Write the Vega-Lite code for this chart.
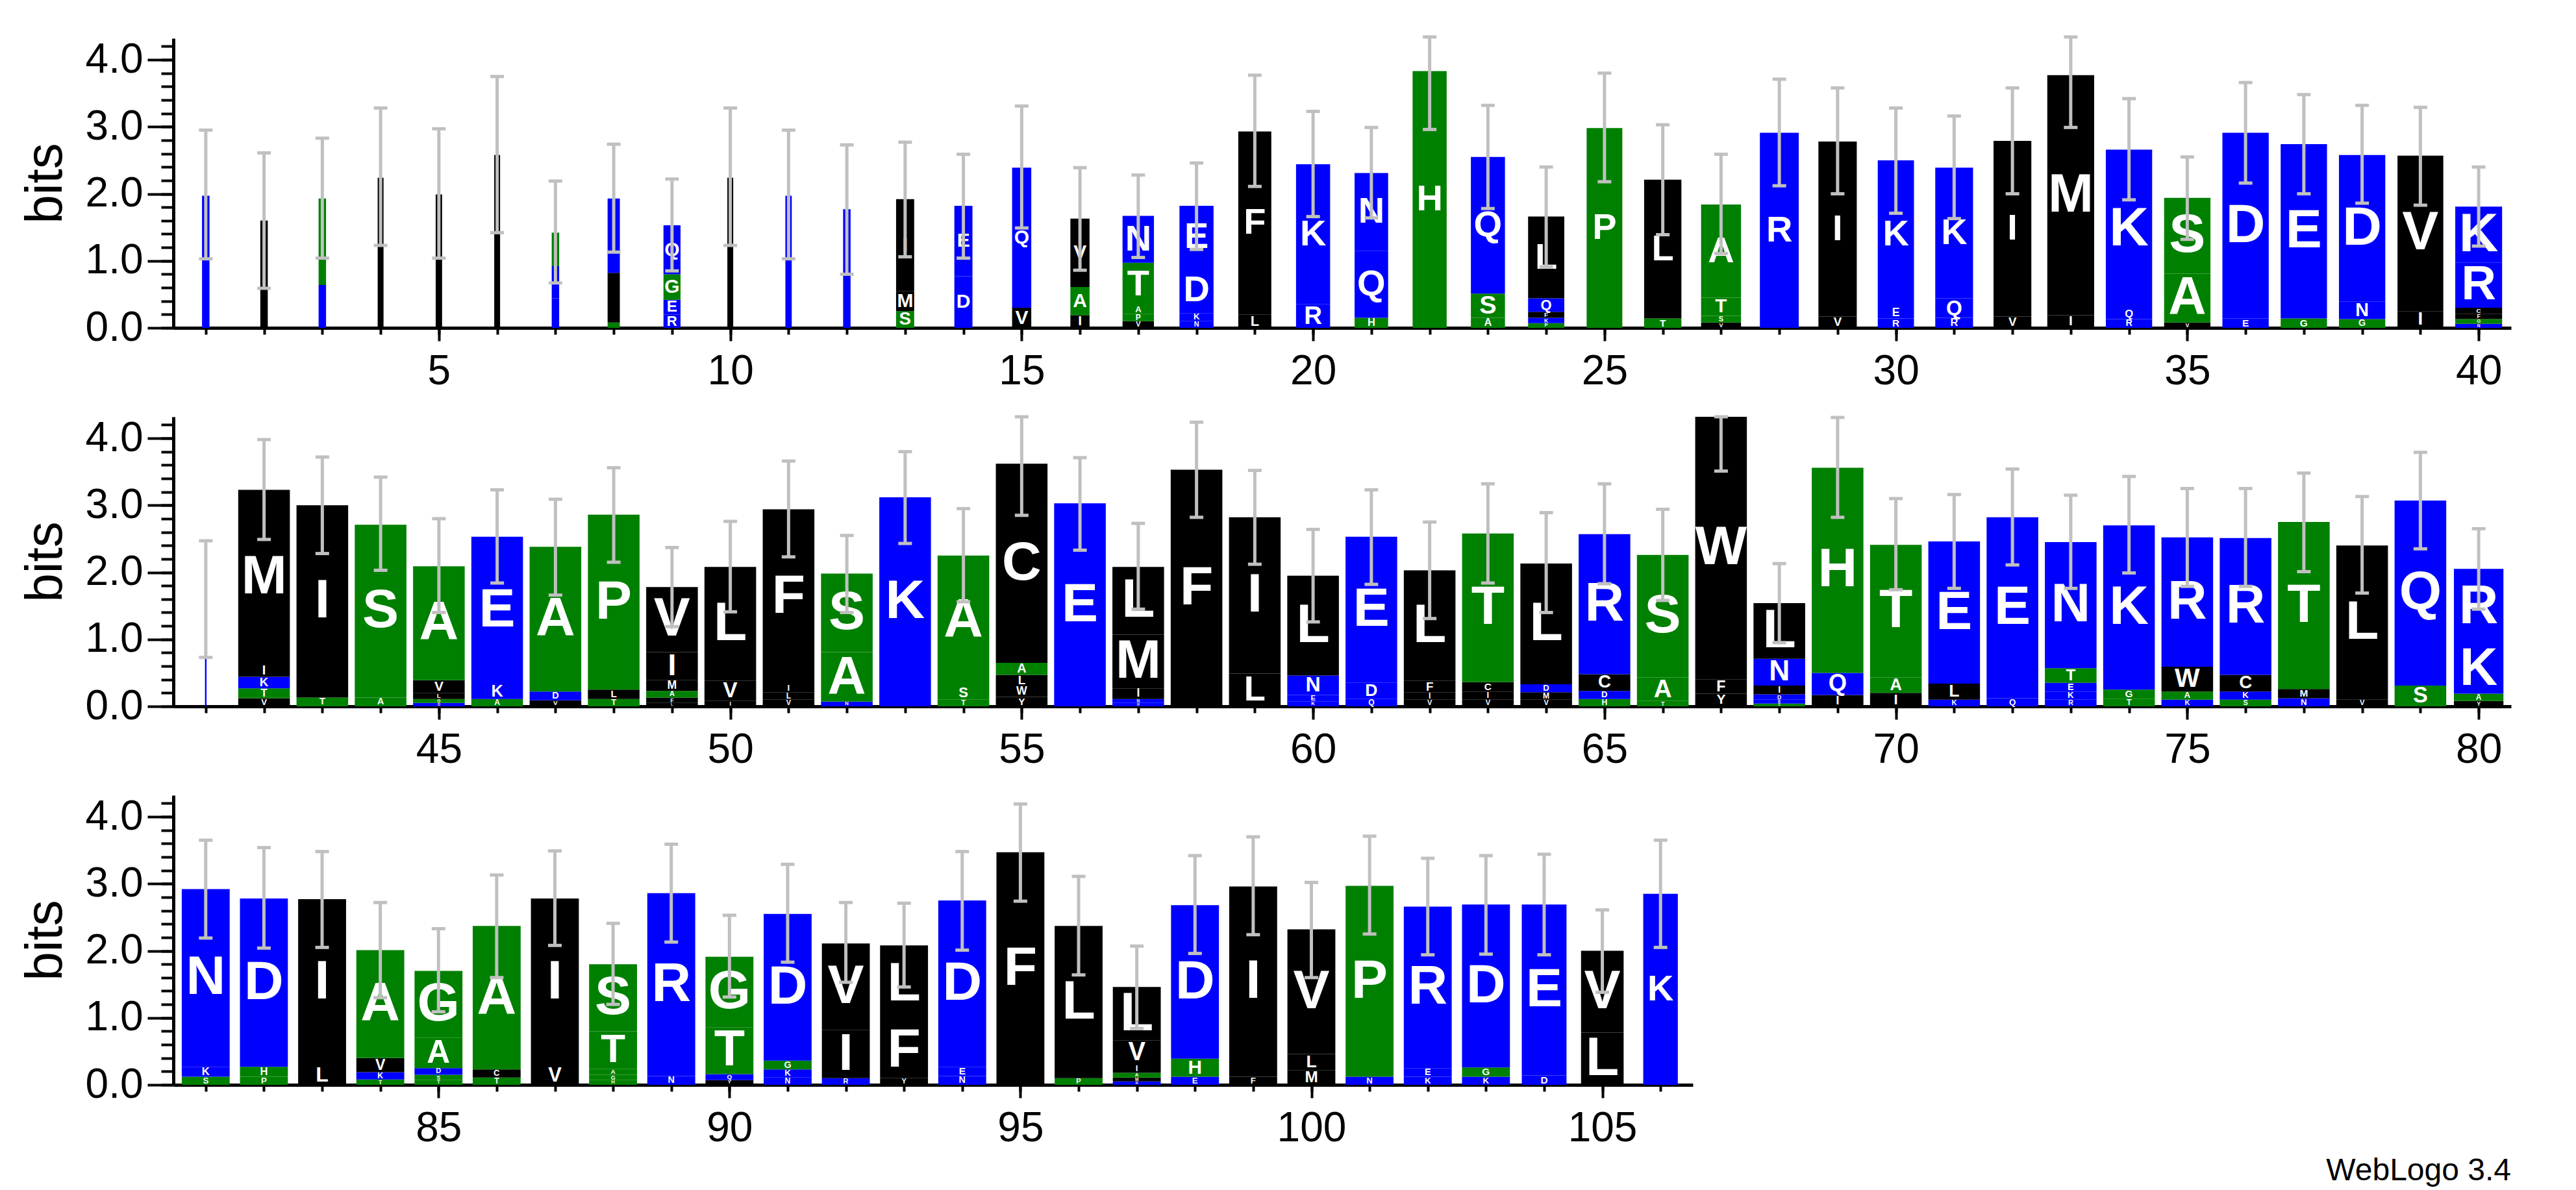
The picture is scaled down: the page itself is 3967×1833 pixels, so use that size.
{
"$schema":"https://vega.github.io/schema/vega-lite/v6.json",
"background":"white",
"padding":{"left":30,"top":54,"right":10,"bottom":10},
"title":{"text":"WebLogo 3.4","orient":"bottom","anchor":"end","fontSize":48,"fontWeight":"normal","font":"Liberation Sans","color":"black","offset":10},
"spacing":137,
"bounds":"flush",
"datasets":{
"letters":[
{"p":1,"a":"Q","b":1.97},
{"p":2,"a":"L","b":1.60},
{"p":3,"a":"Q","b":0.64},{"p":3,"a":"H","b":1.29},
{"p":4,"a":"W","b":2.24},
{"p":5,"a":"F","b":1.99},
{"p":6,"a":"Y","b":2.58},
{"p":7,"a":"Q","b":0.44},{"p":7,"a":"D","b":0.48},{"p":7,"a":"A","b":0.50},
{"p":8,"a":"S","b":0.08},{"p":8,"a":"F","b":0.74},{"p":8,"a":"Q","b":1.11},
{"p":9,"a":"R","b":0.20},{"p":9,"a":"E","b":0.22},{"p":9,"a":"G","b":0.38},{"p":9,"a":"Q","b":0.73},
{"p":10,"a":"W","b":2.24},
{"p":11,"a":"Q","b":1.97},
{"p":12,"a":"E","b":1.77},
{"p":13,"a":"S","b":0.25},{"p":13,"a":"M","b":0.30},{"p":13,"a":"I","b":1.37},
{"p":14,"a":"D","b":0.77},{"p":14,"a":"E","b":1.05},
{"p":15,"a":"V","b":0.30},{"p":15,"a":"Q","b":2.09},
{"p":16,"a":"I","b":0.19},{"p":16,"a":"A","b":0.42},{"p":16,"a":"V","b":1.02},
{"p":17,"a":"V","b":0.10},{"p":17,"a":"P","b":0.11},{"p":17,"a":"A","b":0.12},{"p":17,"a":"T","b":0.64},{"p":17,"a":"N","b":0.70},
{"p":18,"a":"N","b":0.10},{"p":18,"a":"K","b":0.12},{"p":18,"a":"D","b":0.68},{"p":18,"a":"E","b":0.92},
{"p":19,"a":"L","b":0.20},{"p":19,"a":"F","b":2.73},
{"p":20,"a":"R","b":0.35},{"p":20,"a":"K","b":2.09},
{"p":21,"a":"H","b":0.15},{"p":21,"a":"Q","b":1.00},{"p":21,"a":"N","b":1.16},
{"p":22,"a":"H","b":3.83},
{"p":23,"a":"A","b":0.15},{"p":23,"a":"S","b":0.36},{"p":23,"a":"Q","b":2.04},
{"p":24,"a":"P","b":0.07},{"p":24,"a":"K","b":0.08},{"p":24,"a":"F","b":0.09},{"p":24,"a":"Q","b":0.20},{"p":24,"a":"L","b":1.22},
{"p":25,"a":"P","b":2.98},
{"p":26,"a":"T","b":0.14},{"p":26,"a":"L","b":2.07},
{"p":27,"a":"V","b":0.08},{"p":27,"a":"S","b":0.10},{"p":27,"a":"T","b":0.27},{"p":27,"a":"A","b":1.39},
{"p":28,"a":"R","b":2.91},
{"p":29,"a":"V","b":0.17},{"p":29,"a":"I","b":2.61},
{"p":30,"a":"R","b":0.14},{"p":30,"a":"E","b":0.16},{"p":30,"a":"K","b":2.20},
{"p":31,"a":"R","b":0.15},{"p":31,"a":"Q","b":0.29},{"p":31,"a":"K","b":1.95},
{"p":32,"a":"V","b":0.17},{"p":32,"a":"I","b":2.62},
{"p":33,"a":"I","b":0.19},{"p":33,"a":"M","b":3.58},
{"p":34,"a":"R","b":0.13},{"p":34,"a":"Q","b":0.15},{"p":34,"a":"K","b":2.38},
{"p":35,"a":"V","b":0.08},{"p":35,"a":"A","b":0.73},{"p":35,"a":"S","b":1.13},
{"p":36,"a":"E","b":0.14},{"p":36,"a":"D","b":2.77},
{"p":37,"a":"G","b":0.14},{"p":37,"a":"E","b":2.60},
{"p":38,"a":"G","b":0.13},{"p":38,"a":"N","b":0.26},{"p":38,"a":"D","b":2.19},
{"p":39,"a":"I","b":0.25},{"p":39,"a":"V","b":2.32},
{"p":40,"a":"N","b":0.06},{"p":40,"a":"G","b":0.07},{"p":40,"a":"F","b":0.08},{"p":40,"a":"C","b":0.09},{"p":40,"a":"R","b":0.67},{"p":40,"a":"K","b":0.84},
{"p":41,"a":"D","b":1.60},
{"p":42,"a":"V","b":0.12},{"p":42,"a":"T","b":0.15},{"p":42,"a":"K","b":0.17},{"p":42,"a":"I","b":0.18},{"p":42,"a":"M","b":2.61},
{"p":43,"a":"T","b":0.13},{"p":43,"a":"I","b":2.87},
{"p":44,"a":"A","b":0.13},{"p":44,"a":"S","b":2.58},
{"p":45,"a":"D","b":0.05},{"p":45,"a":"G","b":0.06},{"p":45,"a":"L","b":0.09},{"p":45,"a":"V","b":0.19},{"p":45,"a":"A","b":1.70},
{"p":46,"a":"A","b":0.11},{"p":46,"a":"K","b":0.23},{"p":46,"a":"E","b":2.19},
{"p":47,"a":"V","b":0.09},{"p":47,"a":"D","b":0.13},{"p":47,"a":"A","b":2.16},
{"p":48,"a":"T","b":0.11},{"p":48,"a":"L","b":0.14},{"p":48,"a":"P","b":2.61},
{"p":49,"a":"L","b":0.05},{"p":49,"a":"F","b":0.08},{"p":49,"a":"A","b":0.10},{"p":49,"a":"M","b":0.16},{"p":49,"a":"I","b":0.42},{"p":49,"a":"V","b":0.97},
{"p":50,"a":"I","b":0.08},{"p":50,"a":"V","b":0.30},{"p":50,"a":"L","b":1.70},
{"p":51,"a":"V","b":0.10},{"p":51,"a":"L","b":0.11},{"p":51,"a":"I","b":0.12},{"p":51,"a":"F","b":2.61},
{"p":52,"a":"N","b":0.07},{"p":52,"a":"A","b":0.74},{"p":52,"a":"S","b":1.17},
{"p":53,"a":"K","b":3.12},
{"p":54,"a":"T","b":0.10},{"p":54,"a":"S","b":0.20},{"p":54,"a":"A","b":1.95},
{"p":55,"a":"Y","b":0.14},{"p":55,"a":"W","b":0.16},{"p":55,"a":"L","b":0.17},{"p":55,"a":"A","b":0.18},{"p":55,"a":"C","b":2.97},
{"p":56,"a":"E","b":3.03},
{"p":57,"a":"R","b":0.05},{"p":57,"a":"N","b":0.06},{"p":57,"a":"I","b":0.16},{"p":57,"a":"M","b":0.80},{"p":57,"a":"L","b":1.01},
{"p":58,"a":"F","b":3.53},
{"p":59,"a":"L","b":0.49},{"p":59,"a":"I","b":2.33},
{"p":60,"a":"K","b":0.07},{"p":60,"a":"E","b":0.10},{"p":60,"a":"N","b":0.29},{"p":60,"a":"L","b":1.49},
{"p":61,"a":"Q","b":0.11},{"p":61,"a":"D","b":0.24},{"p":61,"a":"E","b":2.18},
{"p":62,"a":"V","b":0.10},{"p":62,"a":"I","b":0.11},{"p":62,"a":"F","b":0.17},{"p":62,"a":"L","b":1.65},
{"p":63,"a":"V","b":0.10},{"p":63,"a":"I","b":0.12},{"p":63,"a":"C","b":0.14},{"p":63,"a":"T","b":2.22},
{"p":64,"a":"V","b":0.10},{"p":64,"a":"M","b":0.11},{"p":64,"a":"D","b":0.12},{"p":64,"a":"L","b":1.80},
{"p":65,"a":"H","b":0.11},{"p":65,"a":"D","b":0.12},{"p":65,"a":"C","b":0.25},{"p":65,"a":"R","b":2.09},
{"p":66,"a":"T","b":0.08},{"p":66,"a":"A","b":0.35},{"p":66,"a":"S","b":1.83},
{"p":67,"a":"Y","b":0.19},{"p":67,"a":"F","b":0.21},{"p":67,"a":"W","b":3.92},
{"p":68,"a":"G","b":0.04},{"p":68,"a":"E","b":0.06},{"p":68,"a":"D","b":0.08},{"p":68,"a":"I","b":0.13},{"p":68,"a":"N","b":0.40},{"p":68,"a":"L","b":0.83},
{"p":69,"a":"I","b":0.17},{"p":69,"a":"Q","b":0.33},{"p":69,"a":"H","b":3.06},
{"p":70,"a":"I","b":0.20},{"p":70,"a":"A","b":0.23},{"p":70,"a":"T","b":1.98},
{"p":71,"a":"K","b":0.10},{"p":71,"a":"L","b":0.24},{"p":71,"a":"E","b":2.12},
{"p":72,"a":"Q","b":0.12},{"p":72,"a":"E","b":2.70},
{"p":73,"a":"R","b":0.10},{"p":73,"a":"K","b":0.12},{"p":73,"a":"E","b":0.13},{"p":73,"a":"T","b":0.22},{"p":73,"a":"N","b":1.88},
{"p":74,"a":"T","b":0.11},{"p":74,"a":"G","b":0.14},{"p":74,"a":"K","b":2.45},
{"p":75,"a":"K","b":0.10},{"p":75,"a":"A","b":0.12},{"p":75,"a":"W","b":0.37},{"p":75,"a":"R","b":1.93},
{"p":76,"a":"S","b":0.10},{"p":76,"a":"K","b":0.12},{"p":76,"a":"C","b":0.25},{"p":76,"a":"R","b":2.04},
{"p":77,"a":"N","b":0.12},{"p":77,"a":"M","b":0.14},{"p":77,"a":"T","b":2.49},
{"p":78,"a":"V","b":0.10},{"p":78,"a":"L","b":2.30},
{"p":79,"a":"S","b":0.31},{"p":79,"a":"Q","b":2.76},
{"p":80,"a":"Y","b":0.08},{"p":80,"a":"A","b":0.11},{"p":80,"a":"K","b":0.73},{"p":80,"a":"R","b":1.13},
{"p":81,"a":"S","b":0.12},{"p":81,"a":"K","b":0.15},{"p":81,"a":"N","b":2.65},
{"p":82,"a":"P","b":0.12},{"p":82,"a":"H","b":0.15},{"p":82,"a":"D","b":2.51},
{"p":83,"a":"L","b":0.29},{"p":83,"a":"I","b":2.48},
{"p":84,"a":"T","b":0.08},{"p":84,"a":"K","b":0.11},{"p":84,"a":"V","b":0.21},{"p":84,"a":"A","b":1.61},
{"p":85,"a":"T","b":0.07},{"p":85,"a":"S","b":0.08},{"p":85,"a":"D","b":0.10},{"p":85,"a":"A","b":0.45},{"p":85,"a":"G","b":1.00},
{"p":86,"a":"T","b":0.11},{"p":86,"a":"C","b":0.12},{"p":86,"a":"A","b":2.14},
{"p":87,"a":"V","b":0.28},{"p":87,"a":"I","b":2.50},
{"p":88,"a":"H","b":0.07},{"p":88,"a":"G","b":0.08},{"p":88,"a":"A","b":0.09},{"p":88,"a":"T","b":0.56},{"p":88,"a":"S","b":1.00},
{"p":89,"a":"N","b":0.13},{"p":89,"a":"R","b":2.73},
{"p":90,"a":"Y","b":0.07},{"p":90,"a":"Q","b":0.09},{"p":90,"a":"T","b":0.70},{"p":90,"a":"G","b":1.05},
{"p":91,"a":"N","b":0.11},{"p":91,"a":"K","b":0.12},{"p":91,"a":"G","b":0.13},{"p":91,"a":"D","b":2.19},
{"p":92,"a":"R","b":0.10},{"p":92,"a":"I","b":0.72},{"p":92,"a":"V","b":1.29},
{"p":93,"a":"Y","b":0.10},{"p":93,"a":"F","b":0.83},{"p":93,"a":"L","b":1.15},
{"p":94,"a":"N","b":0.13},{"p":94,"a":"E","b":0.14},{"p":94,"a":"D","b":2.48},
{"p":95,"a":"F","b":3.47},
{"p":96,"a":"P","b":0.10},{"p":96,"a":"L","b":2.27},
{"p":97,"a":"R","b":0.05},{"p":97,"a":"M","b":0.06},{"p":97,"a":"A","b":0.07},{"p":97,"a":"I","b":0.12},{"p":97,"a":"V","b":0.36},{"p":97,"a":"L","b":0.80},
{"p":98,"a":"E","b":0.12},{"p":98,"a":"H","b":0.27},{"p":98,"a":"D","b":2.29},
{"p":99,"a":"F","b":0.12},{"p":99,"a":"I","b":2.84},
{"p":100,"a":"M","b":0.22},{"p":100,"a":"L","b":0.24},{"p":100,"a":"V","b":1.86},
{"p":101,"a":"N","b":0.12},{"p":101,"a":"P","b":2.85},
{"p":102,"a":"K","b":0.12},{"p":102,"a":"E","b":0.13},{"p":102,"a":"R","b":2.41},
{"p":103,"a":"K","b":0.12},{"p":103,"a":"G","b":0.14},{"p":103,"a":"D","b":2.43},
{"p":104,"a":"D","b":0.14},{"p":104,"a":"E","b":2.55},
{"p":105,"a":"L","b":0.78},{"p":105,"a":"V","b":1.22},
{"p":106,"a":"K","b":2.85}
],
"pos":[
{"p":1,"w":0.14,"lo":1.03,"hi":2.95},{"p":2,"w":0.14,"lo":0.59,"hi":2.61},{"p":3,"w":0.14,"lo":1.04,"hi":2.83},{"p":4,"w":0.11,"lo":1.23,"hi":3.28},{"p":5,"w":0.12,"lo":1.04,"hi":2.97},
{"p":6,"w":0.11,"lo":1.42,"hi":3.75},{"p":7,"w":0.14,"lo":0.67,"hi":2.19},{"p":8,"w":0.23,"lo":1.13,"hi":2.74},{"p":9,"w":0.32,"lo":0.85,"hi":2.22},{"p":10,"w":0.11,"lo":1.23,"hi":3.28},
{"p":11,"w":0.12,"lo":1.03,"hi":2.95},{"p":12,"w":0.14,"lo":0.80,"hi":2.73},{"p":13,"w":0.34,"lo":1.06,"hi":2.77},{"p":14,"w":0.34,"lo":1.04,"hi":2.59},{"p":15,"w":0.36,"lo":1.49,"hi":3.31},
{"p":16,"w":0.36,"lo":0.86,"hi":2.39},{"p":17,"w":0.59,"lo":1.05,"hi":2.28},{"p":18,"w":0.64,"lo":1.17,"hi":2.46},{"p":19,"w":0.62,"lo":2.11,"hi":3.77},{"p":20,"w":0.64,"lo":1.66,"hi":3.23},
{"p":21,"w":0.63,"lo":1.64,"hi":2.99},{"p":22,"w":0.64,"lo":2.96,"hi":4.34},{"p":23,"w":0.64,"lo":1.78,"hi":3.32},{"p":24,"w":0.68,"lo":0.91,"hi":2.40},{"p":25,"w":0.67,"lo":2.18,"hi":3.80},
{"p":26,"w":0.70,"lo":1.39,"hi":3.03},{"p":27,"w":0.75,"lo":1.11,"hi":2.59},{"p":28,"w":0.73,"lo":2.12,"hi":3.71},{"p":29,"w":0.72,"lo":2.00,"hi":3.58},{"p":30,"w":0.68,"lo":1.71,"hi":3.28},
{"p":31,"w":0.71,"lo":1.63,"hi":3.16},{"p":32,"w":0.71,"lo":2.00,"hi":3.58},{"p":33,"w":0.88,"lo":2.99,"hi":4.34},{"p":34,"w":0.87,"lo":1.91,"hi":3.42},{"p":35,"w":0.87,"lo":1.32,"hi":2.55},
{"p":36,"w":0.87,"lo":2.16,"hi":3.66},{"p":37,"w":0.87,"lo":2.00,"hi":3.48},{"p":38,"w":0.87,"lo":1.86,"hi":3.32},{"p":39,"w":0.86,"lo":1.83,"hi":3.29},{"p":40,"w":0.88,"lo":1.22,"hi":2.40},
{"p":41,"w":0.03,"lo":0.73,"hi":2.47},{"p":42,"w":0.97,"lo":2.49,"hi":3.98},{"p":43,"w":0.97,"lo":2.28,"hi":3.72},{"p":44,"w":0.97,"lo":2.03,"hi":3.42},{"p":45,"w":0.97,"lo":1.40,"hi":2.80},
{"p":46,"w":0.97,"lo":1.84,"hi":3.23},{"p":47,"w":0.97,"lo":1.66,"hi":3.09},{"p":48,"w":0.97,"lo":2.15,"hi":3.56},{"p":49,"w":0.97,"lo":1.19,"hi":2.37},{"p":50,"w":0.97,"lo":1.41,"hi":2.76},
{"p":51,"w":0.97,"lo":2.23,"hi":3.66},{"p":52,"w":0.97,"lo":1.40,"hi":2.55},{"p":53,"w":0.97,"lo":2.43,"hi":3.80},{"p":54,"w":0.97,"lo":1.56,"hi":2.95},{"p":55,"w":0.97,"lo":2.85,"hi":4.32},
{"p":56,"w":0.97,"lo":2.33,"hi":3.71},{"p":57,"w":0.97,"lo":1.45,"hi":2.73},{"p":58,"w":0.97,"lo":2.82,"hi":4.24},{"p":59,"w":0.97,"lo":2.12,"hi":3.52},{"p":60,"w":0.97,"lo":1.26,"hi":2.64},
{"p":61,"w":0.97,"lo":1.82,"hi":3.23},{"p":62,"w":0.97,"lo":1.31,"hi":2.75},{"p":63,"w":0.97,"lo":1.84,"hi":3.32},{"p":64,"w":0.97,"lo":1.40,"hi":2.89},{"p":65,"w":0.97,"lo":1.83,"hi":3.32},
{"p":66,"w":0.97,"lo":1.58,"hi":2.94},{"p":67,"w":0.97,"lo":3.51,"hi":4.32},{"p":68,"w":0.97,"lo":0.95,"hi":2.13},{"p":69,"w":0.97,"lo":2.82,"hi":4.31},{"p":70,"w":0.97,"lo":1.74,"hi":3.10},
{"p":71,"w":0.97,"lo":1.76,"hi":3.16},{"p":72,"w":0.97,"lo":2.11,"hi":3.54},{"p":73,"w":0.97,"lo":1.76,"hi":3.15},{"p":74,"w":0.97,"lo":1.99,"hi":3.43},{"p":75,"w":0.97,"lo":1.79,"hi":3.25},
{"p":76,"w":0.97,"lo":1.79,"hi":3.25},{"p":77,"w":0.97,"lo":2.01,"hi":3.48},{"p":78,"w":0.97,"lo":1.69,"hi":3.13},{"p":79,"w":0.97,"lo":2.35,"hi":3.79},{"p":80,"w":0.93,"lo":1.45,"hi":2.65},
{"p":81,"w":0.9,"lo":2.19,"hi":3.65},{"p":82,"w":0.9,"lo":2.04,"hi":3.54},{"p":83,"w":0.9,"lo":2.05,"hi":3.48},{"p":84,"w":0.9,"lo":1.30,"hi":2.72},{"p":85,"w":0.9,"lo":1.09,"hi":2.33},
{"p":86,"w":0.9,"lo":1.60,"hi":3.13},{"p":87,"w":0.9,"lo":2.08,"hi":3.49},{"p":88,"w":0.9,"lo":1.20,"hi":2.41},{"p":89,"w":0.9,"lo":2.13,"hi":3.59},{"p":90,"w":0.9,"lo":1.31,"hi":2.53},
{"p":91,"w":0.9,"lo":1.83,"hi":3.29},{"p":92,"w":0.9,"lo":1.53,"hi":2.72},{"p":93,"w":0.9,"lo":1.46,"hi":2.71},{"p":94,"w":0.9,"lo":2.01,"hi":3.48},{"p":95,"w":0.9,"lo":2.74,"hi":4.19},
{"p":96,"w":0.9,"lo":1.64,"hi":3.11},{"p":97,"w":0.9,"lo":0.84,"hi":2.07},{"p":98,"w":0.9,"lo":1.96,"hi":3.42},{"p":99,"w":0.9,"lo":2.24,"hi":3.70},{"p":100,"w":0.9,"lo":1.60,"hi":3.02},
{"p":101,"w":0.9,"lo":2.25,"hi":3.71},{"p":102,"w":0.9,"lo":1.94,"hi":3.38},{"p":103,"w":0.9,"lo":1.95,"hi":3.42},{"p":104,"w":0.84,"lo":1.94,"hi":3.44},{"p":105,"w":0.8,"lo":1.38,"hi":2.61},
{"p":106,"w":0.65,"lo":2.05,"hi":3.65}
]
},
"vconcat":[
{"width":3600,"height":446,
 "resolve":{"axis":{"x":"independent","y":"independent"}},
 "layer":[
  {"data":{"name":"letters"},
   "transform":[{"filter":"datum.p <= 40"},{"lookup":"p","from":{"data":{"name":"pos"},"key":"p","fields":["w"]}},{"stack":"b","groupby":["p"],"sort":[{"field":"b","order":"ascending"}],"as":["y0","y1"]}],
   "resolve":{"scale":{"size":"independent"}},
   "encoding":{"x":{"field":"p","type":"quantitative","scale":{"domain":[0.5,40.5],"nice":false,"zero":false},"axis":{"values":[1,2,3,4,5,6,7,8,9,10,11,12,13,14,15,16,17,18,19,20,21,22,23,24,25,26,27,28,29,30,31,32,33,34,35,36,37,38,39,40],"tickSize":10,"labels":false,"title":null,"orient":"bottom"}},
     "y":{"field":"y0","type":"quantitative","scale":{"domain":[0,4.32],"nice":false},"axis":{"values":[0,0.2,0.4,0.6,0.8,1,1.2,1.4,1.6,1.8,2,2.2,2.4,2.6,2.8,3,3.2,3.4,3.6,3.8,4,4.2],"tickSize":19,"labels":false,"title":null,"orient":"left"}}},
   "layer":[
    {"mark":{"type":"bar"},"encoding":{
      "y2":{"field":"y1"},
      "size":{"field":"w","type":"quantitative","scale":{"domain":[0,1],"range":[0,82]},"legend":null},
      "color":{"field":"a","type":"nominal","scale":{"domain":["R","K","D","E","N","Q","S","G","H","T","A","P","Y","V","M","C","L","F","I","W"],"range":["#0000ff","#0000ff","#0000ff","#0000ff","#0000ff","#0000ff","#008000","#008000","#008000","#008000","#008000","#008000","#000000","#000000","#000000","#000000","#000000","#000000","#000000","#000000"]},"legend":null}}},
    {"transform":[{"filter":"datum.w >= 0.8"}],"mark":{"type":"text","font":"Liberation Sans","fontWeight":"bold","color":"white","baseline":"middle","align":"center","dy":{"expr":"-datum.b * 51.6"}},"encoding":{
      "text":{"field":"a"},"size":{"field":"b","type":"quantitative","scale":{"domain":[0,0.76],"range":[0,84],"clamp":true},"legend":null}}},
    {"transform":[{"filter":"datum.w >= 0.5 && datum.w < 0.8"}],"mark":{"type":"text","font":"Liberation Sans","fontWeight":"bold","color":"white","baseline":"middle","align":"center","dy":{"expr":"-datum.b * 51.6"}},"encoding":{
      "text":{"field":"a"},"size":{"field":"b","type":"quantitative","scale":{"domain":[0,0.51],"range":[0,56],"clamp":true},"legend":null}}},
    {"transform":[{"filter":"datum.w >= 0.3 && datum.w < 0.5"}],"mark":{"type":"text","font":"Liberation Sans","fontWeight":"bold","color":"white","baseline":"middle","align":"center","dy":{"expr":"-datum.b * 51.6"}},"encoding":{
      "text":{"field":"a"},"size":{"field":"b","type":"quantitative","scale":{"domain":[0,0.27],"range":[0,30],"clamp":true},"legend":null}}}
   ]},
  {"data":{"name":"pos"},"transform":[{"filter":"datum.p <= 40"}],
   "encoding":{"x":{"field":"p","type":"quantitative","scale":{"domain":[0.5,40.5],"nice":false,"zero":false},"axis":{"values":[5,10,15,20,25,30,35,40],"tickSize":20,"labelPadding":15,"title":null,"domain":false,"orient":"bottom","format":"d"}},
     "y":{"field":"lo","type":"quantitative","scale":{"domain":[0,4.32],"nice":false},"axis":{"values":[0,1,2,3,4],"tickSize":40,"format":".1f","labelPadding":7,"title":"bits","titleFontSize":80,"titleFontWeight":"normal","titlePadding":20,"domain":false,"orient":"left"}}},
   "layer":[
    {"mark":{"type":"rule","color":"#c0c0c0","strokeWidth":5},"encoding":{"y2":{"field":"hi"}}},
    {"mark":{"type":"tick","orient":"horizontal","color":"#c0c0c0","size":21,"thickness":5,"opacity":1}},
    {"mark":{"type":"tick","orient":"horizontal","color":"#c0c0c0","size":21,"thickness":5,"opacity":1},"encoding":{"y":{"field":"hi","type":"quantitative"}}}
   ]}
 ]},
{"width":3600,"height":446,
 "resolve":{"axis":{"x":"independent","y":"independent"}},
 "layer":[
  {"data":{"name":"letters"},
   "transform":[{"filter":"datum.p > 40 && datum.p <= 80"},{"lookup":"p","from":{"data":{"name":"pos"},"key":"p","fields":["w"]}},{"stack":"b","groupby":["p"],"sort":[{"field":"b","order":"ascending"}],"as":["y0","y1"]}],
   "resolve":{"scale":{"size":"independent"}},
   "encoding":{"x":{"field":"p","type":"quantitative","scale":{"domain":[40.5,80.5],"nice":false,"zero":false},"axis":{"values":[41,42,43,44,45,46,47,48,49,50,51,52,53,54,55,56,57,58,59,60,61,62,63,64,65,66,67,68,69,70,71,72,73,74,75,76,77,78,79,80],"tickSize":10,"labels":false,"title":null,"orient":"bottom"}},
     "y":{"field":"y0","type":"quantitative","scale":{"domain":[0,4.32],"nice":false},"axis":{"values":[0,0.2,0.4,0.6,0.8,1,1.2,1.4,1.6,1.8,2,2.2,2.4,2.6,2.8,3,3.2,3.4,3.6,3.8,4,4.2],"tickSize":19,"labels":false,"title":null,"orient":"left"}}},
   "layer":[
    {"mark":{"type":"bar"},"encoding":{
      "y2":{"field":"y1"},
      "size":{"field":"w","type":"quantitative","scale":{"domain":[0,1],"range":[0,82]},"legend":null},
      "color":{"field":"a","type":"nominal","scale":{"domain":["R","K","D","E","N","Q","S","G","H","T","A","P","Y","V","M","C","L","F","I","W"],"range":["#0000ff","#0000ff","#0000ff","#0000ff","#0000ff","#0000ff","#008000","#008000","#008000","#008000","#008000","#008000","#000000","#000000","#000000","#000000","#000000","#000000","#000000","#000000"]},"legend":null}}},
    {"transform":[{"filter":"datum.w >= 0.8"}],"mark":{"type":"text","font":"Liberation Sans","fontWeight":"bold","color":"white","baseline":"middle","align":"center","dy":{"expr":"-datum.b * 51.6"}},"encoding":{
      "text":{"field":"a"},"size":{"field":"b","type":"quantitative","scale":{"domain":[0,0.76],"range":[0,84],"clamp":true},"legend":null}}},
    {"transform":[{"filter":"datum.w >= 0.5 && datum.w < 0.8"}],"mark":{"type":"text","font":"Liberation Sans","fontWeight":"bold","color":"white","baseline":"middle","align":"center","dy":{"expr":"-datum.b * 51.6"}},"encoding":{
      "text":{"field":"a"},"size":{"field":"b","type":"quantitative","scale":{"domain":[0,0.51],"range":[0,56],"clamp":true},"legend":null}}}
   ]},
  {"data":{"name":"pos"},"transform":[{"filter":"datum.p > 40 && datum.p <= 80"}],
   "encoding":{"x":{"field":"p","type":"quantitative","scale":{"domain":[40.5,80.5],"nice":false,"zero":false},"axis":{"values":[45,50,55,60,65,70,75,80],"tickSize":20,"labelPadding":15,"title":null,"domain":false,"orient":"bottom","format":"d"}},
     "y":{"field":"lo","type":"quantitative","scale":{"domain":[0,4.32],"nice":false},"axis":{"values":[0,1,2,3,4],"tickSize":40,"format":".1f","labelPadding":7,"title":"bits","titleFontSize":80,"titleFontWeight":"normal","titlePadding":20,"domain":false,"orient":"left"}}},
   "layer":[
    {"mark":{"type":"rule","color":"#c0c0c0","strokeWidth":5},"encoding":{"y2":{"field":"hi"}}},
    {"mark":{"type":"tick","orient":"horizontal","color":"#c0c0c0","size":21,"thickness":5,"opacity":1}},
    {"mark":{"type":"tick","orient":"horizontal","color":"#c0c0c0","size":21,"thickness":5,"opacity":1},"encoding":{"y":{"field":"hi","type":"quantitative"}}}
   ]}
 ]},
{"width":2340,"height":446,
 "resolve":{"axis":{"x":"independent","y":"independent"}},
 "layer":[
  {"data":{"name":"letters"},
   "transform":[{"filter":"datum.p > 80"},{"lookup":"p","from":{"data":{"name":"pos"},"key":"p","fields":["w"]}},{"stack":"b","groupby":["p"],"sort":[{"field":"b","order":"ascending"}],"as":["y0","y1"]}],
   "resolve":{"scale":{"size":"independent"}},
   "encoding":{"x":{"field":"p","type":"quantitative","scale":{"domain":[80.5,106.5],"nice":false,"zero":false},"axis":{"values":[81,82,83,84,85,86,87,88,89,90,91,92,93,94,95,96,97,98,99,100,101,102,103,104,105,106],"tickSize":10,"labels":false,"title":null,"orient":"bottom"}},
     "y":{"field":"y0","type":"quantitative","scale":{"domain":[0,4.32],"nice":false},"axis":{"values":[0,0.2,0.4,0.6,0.8,1,1.2,1.4,1.6,1.8,2,2.2,2.4,2.6,2.8,3,3.2,3.4,3.6,3.8,4,4.2],"tickSize":19,"labels":false,"title":null,"orient":"left"}}},
   "layer":[
    {"mark":{"type":"bar"},"encoding":{
      "y2":{"field":"y1"},
      "size":{"field":"w","type":"quantitative","scale":{"domain":[0,1],"range":[0,82]},"legend":null},
      "color":{"field":"a","type":"nominal","scale":{"domain":["R","K","D","E","N","Q","S","G","H","T","A","P","Y","V","M","C","L","F","I","W"],"range":["#0000ff","#0000ff","#0000ff","#0000ff","#0000ff","#0000ff","#008000","#008000","#008000","#008000","#008000","#008000","#000000","#000000","#000000","#000000","#000000","#000000","#000000","#000000"]},"legend":null}}},
    {"transform":[{"filter":"datum.w >= 0.8"}],"mark":{"type":"text","font":"Liberation Sans","fontWeight":"bold","color":"white","baseline":"middle","align":"center","dy":{"expr":"-datum.b * 51.6"}},"encoding":{
      "text":{"field":"a"},"size":{"field":"b","type":"quantitative","scale":{"domain":[0,0.76],"range":[0,84],"clamp":true},"legend":null}}},
    {"transform":[{"filter":"datum.w >= 0.5 && datum.w < 0.8"}],"mark":{"type":"text","font":"Liberation Sans","fontWeight":"bold","color":"white","baseline":"middle","align":"center","dy":{"expr":"-datum.b * 51.6"}},"encoding":{
      "text":{"field":"a"},"size":{"field":"b","type":"quantitative","scale":{"domain":[0,0.51],"range":[0,56],"clamp":true},"legend":null}}}
   ]},
  {"data":{"name":"pos"},"transform":[{"filter":"datum.p > 80"}],
   "encoding":{"x":{"field":"p","type":"quantitative","scale":{"domain":[80.5,106.5],"nice":false,"zero":false},"axis":{"values":[85,90,95,100,105],"tickSize":20,"labelPadding":15,"title":null,"domain":false,"orient":"bottom","format":"d"}},
     "y":{"field":"lo","type":"quantitative","scale":{"domain":[0,4.32],"nice":false},"axis":{"values":[0,1,2,3,4],"tickSize":40,"format":".1f","labelPadding":7,"title":"bits","titleFontSize":80,"titleFontWeight":"normal","titlePadding":20,"domain":false,"orient":"left"}}},
   "layer":[
    {"mark":{"type":"rule","color":"#c0c0c0","strokeWidth":5},"encoding":{"y2":{"field":"hi"}}},
    {"mark":{"type":"tick","orient":"horizontal","color":"#c0c0c0","size":21,"thickness":5,"opacity":1}},
    {"mark":{"type":"tick","orient":"horizontal","color":"#c0c0c0","size":21,"thickness":5,"opacity":1},"encoding":{"y":{"field":"hi","type":"quantitative"}}}
   ]}
 ]}
],
"config":{"view":{"stroke":null},"font":"Liberation Sans",
 "axis":{"domainWidth":5,"domainColor":"black","tickColor":"black","tickWidth":4,"labelFont":"Liberation Sans","labelFontSize":64,"labelColor":"black","titleFont":"Liberation Sans","titleColor":"black","grid":false}}
}
